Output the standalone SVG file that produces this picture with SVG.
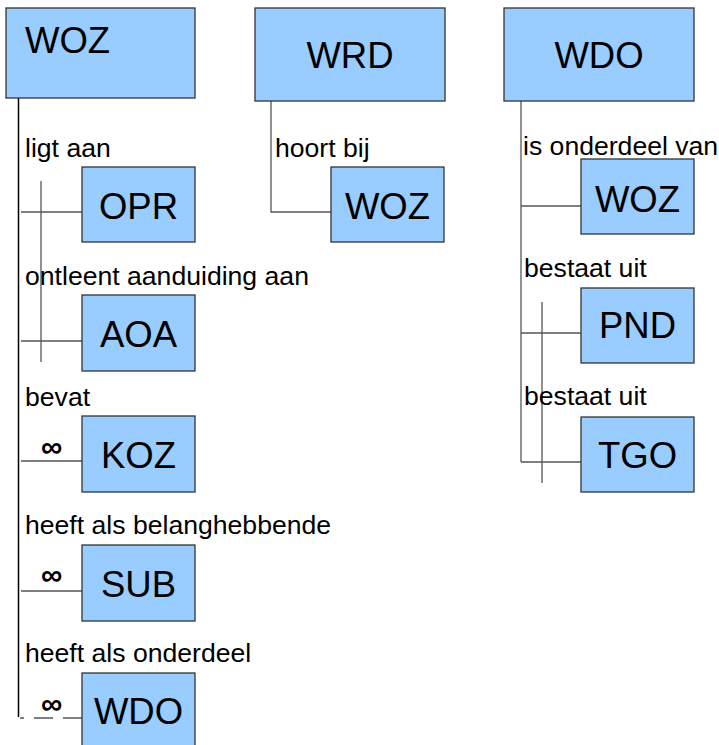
<svg xmlns="http://www.w3.org/2000/svg" width="719" height="745" viewBox="0 0 719 745">
<style>
.box{fill:#99ccff;stroke:#333;stroke-width:1.3}
.big{font-family:"Liberation Sans",Arial,sans-serif;font-size:36.5px;fill:#000}
.mid{text-anchor:middle}
.lbl{font-family:"Liberation Sans",Arial,sans-serif;font-size:26.6px;fill:#000}
.inf{font-family:"Liberation Sans",Arial,sans-serif;font-size:30px;font-weight:bold;fill:#000}
.ln{stroke:#555;stroke-width:1.3;fill:none}
.lk{stroke:#000;stroke-width:1.5;fill:none}
</style>
<rect width="719" height="745" fill="#fff"/>
<g id="connectors">
<line class="lk" x1="18.5" y1="98" x2="18.5" y2="717"/>
<line class="ln" x1="21" y1="212" x2="82" y2="212"/>
<line class="ln" x1="21" y1="341" x2="82" y2="341"/>
<line class="ln" x1="41" y1="181" x2="41" y2="362"/>
<line class="ln" x1="21" y1="461" x2="82" y2="461"/>
<line class="ln" x1="21" y1="591" x2="82" y2="591"/>
<path class="ln" d="M20 718H24M34 718H53M63 718H82"/>
<path class="ln" d="M271 101V212H331"/>
<line class="ln" x1="521" y1="101" x2="521" y2="462"/>
<line class="ln" x1="521" y1="206" x2="581" y2="206"/>
<line class="ln" x1="521" y1="333" x2="581" y2="333"/>
<line class="ln" x1="521" y1="462" x2="581" y2="462"/>
<line class="ln" x1="542" y1="302" x2="542" y2="483"/>
<text class="lbl" x="25" y="157">ligt aan</text>
<text class="lbl" x="25" y="285">ontleent aanduiding aan</text>
<text class="lbl" x="25" y="406">bevat</text>
<text class="inf" x="41" y="457">∞</text>
<text class="lbl" x="25" y="534">heeft als belanghebbende</text>
<text class="inf" x="41" y="585">∞</text>
<text class="lbl" x="25" y="662">heeft als onderdeel</text>
<text class="inf" x="41" y="714">∞</text>
<text class="lbl" x="275" y="157">hoort bij</text>
<text class="lbl" x="523" y="155">is onderdeel van</text>
<text class="lbl" x="524" y="277">bestaat uit</text>
<text class="lbl" x="524" y="405">bestaat uit</text>
</g>
<g id="woz-main"><rect class="box" x="6" y="8" width="189" height="90"/><text class="big" x="25" y="53">WOZ</text></g>
<g id="opr"><rect class="box" x="82" y="167" width="113" height="75"/><text class="big mid" x="138.5" y="219">OPR</text></g>
<g id="aoa"><rect class="box" x="82" y="295" width="113" height="76"/><text class="big mid" x="138.5" y="347">AOA</text></g>
<g id="koz"><rect class="box" x="82" y="416" width="113" height="76"/><text class="big mid" x="138.5" y="468">KOZ</text></g>
<g id="sub"><rect class="box" x="82" y="545" width="113" height="76"/><text class="big mid" x="138.5" y="597">SUB</text></g>
<g id="wdo-child"><rect class="box" x="82" y="673" width="113" height="80"/><text class="big mid" x="138.5" y="724">WDO</text></g>
<g id="wrd"><rect class="box" x="255" y="8" width="190" height="93"/><text class="big mid" x="350" y="68">WRD</text></g>
<g id="woz-wrd"><rect class="box" x="331" y="167" width="113" height="75"/><text class="big mid" x="387.5" y="219">WOZ</text></g>
<g id="wdo-main"><rect class="box" x="504" y="8" width="190" height="93"/><text class="big mid" x="599" y="68">WDO</text></g>
<g id="woz-wdo"><rect class="box" x="581" y="159" width="113" height="75"/><text class="big mid" x="637.5" y="212">WOZ</text></g>
<g id="pnd"><rect class="box" x="581" y="288" width="113" height="75"/><text class="big mid" x="637.5" y="338">PND</text></g>
<g id="tgo"><rect class="box" x="581" y="417" width="113" height="75"/><text class="big mid" x="637.5" y="468">TGO</text></g>
</svg>
